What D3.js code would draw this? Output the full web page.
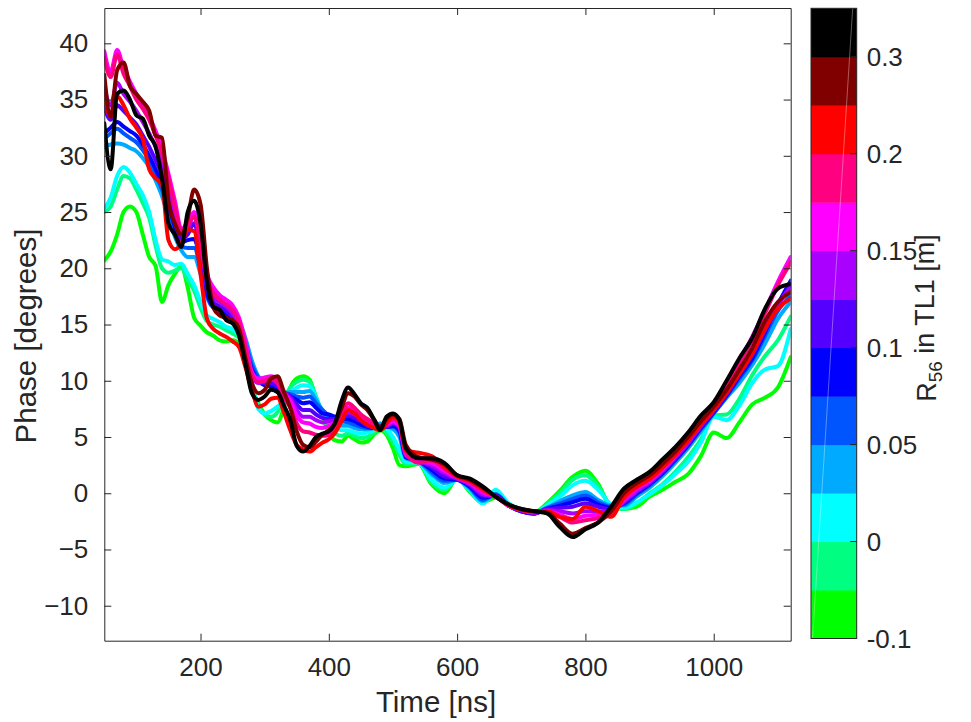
<!DOCTYPE html>
<html>
<head>
<meta charset="utf-8">
<script src="https://cdn.jsdelivr.net/npm/d3@7"></script>
<style>
  html, body { margin: 0; padding: 0; background: #fff; }
  svg { display: block; }
  text { font-family: "Liberation Sans", Arial, Helvetica, sans-serif; fill: #262626; }
</style>
</head>
<body>
<svg id="chart" width="971" height="722"></svg>
<script>
// ---------- data ----------
const times = [50,60,70,80,90,100,110,120,130,140,150,160,170,180,190,200,210,220,230,240,250,260,270,280,290,300,
  310,320,330,340,350,360,370,380,390,400,410,420,430,440,450,460,470,480,490,500,510,520,
  540,560,580,600,620,640,660,680,700,720,
  740,760,780,800,820,840,860,880,900,920,940,960,980,1000,1020,1040,1060,1080,1100,1120];

const seriesColors = ["#00ff00","#00ff80","#00ffff","#00aaff","#0055ff","#0000ff","#5500ff","#aa00ff","#ff00ff","#ff0080","#ff0000","#800000","#000000"];

const phaseGreen = [20.7,21.5,23.0,25.0,25.5,25.0,23.0,21.0,20.2,17.0,18.5,19.5,20.2,18.3,15.6,14.9,14.3,14.0,13.6,13.5,13.6,13.3,11.5,9.3,8.0,7.0,
  6.5,6.3,7.6,9.4,10.2,10.4,10.1,8.4,6.9,5.3,4.7,4.6,5.1,4.8,4.5,4.6,5.2,5.6,5.2,4.0,2.5,2.4,
  2.6,0.8,0.0,1.3,0.1,-0.8,-0.4,-1.0,-1.5,-1.7,
  -0.9,0.2,1.45,2.0,0.8,-1.2,-1.4,-1.2,-0.3,0.3,1.0,1.7,3.3,5.4,4.9,6.3,7.9,8.5,9.4,12.1];
const phaseSpring = [25.0,25.5,27.0,28.2,28.0,27.0,25.8,24.5,22.0,20.0,19.6,19.8,20.0,19.0,18.0,16.5,15.3,15.0,14.8,14.5,14.2,13.8,12.0,9.6,7.8,7.0,
  6.8,7.2,8.4,9.4,9.9,10.1,9.9,8.6,7.0,5.8,5.3,5.1,5.3,5.1,4.9,5.0,5.4,5.8,5.4,4.6,3.4,2.6,
  2.7,1.0,0.3,1.3,0.2,-0.9,0.0,-0.9,-1.5,-1.8,
  -1.0,0.0,1.2,1.6,0.6,-1.1,-1.4,-0.9,0.0,0.8,1.9,3.2,4.8,6.9,7.0,8.4,10.5,12.2,13.6,15.7];
const phaseCyan = [25.3,26.3,28.2,29.0,28.5,27.5,26.5,25.0,22.5,20.8,20.6,20.3,20.4,19.5,18.5,17.0,15.8,15.5,15.2,14.8,14.6,14.0,12.3,9.8,7.5,7.1,
  7.3,7.7,8.2,9.0,9.4,9.6,9.5,8.5,7.2,6.3,5.9,5.6,5.6,5.4,5.3,5.4,5.6,6.2,5.8,5.0,3.9,2.8,
  2.7,1.2,0.5,1.2,0.3,-0.9,0.3,-0.9,-1.5,-1.8,
  -1.1,-0.3,0.7,1.1,0.3,-1.0,-1.3,-0.8,-0.1,0.7,1.7,2.8,4.5,6.8,6.5,7.8,9.8,11.0,11.3,14.6];
const phaseSky = [30.8,31.0,31.1,31.0,30.7,30.4,29.8,29.0,27.8,26.4,24.6,22.8,21.6,21.0,21.0,19.5,17.5,16.8,16.6,16.4,16.0,15.3,13.8,11.8,10.4,9.8,
  9.4,9.0,8.9,9.0,9.0,9.0,9.1,8.3,7.4,6.7,6.3,6.0,6.0,5.8,5.7,5.7,5.8,6.2,6.0,5.7,5.0,3.1,
  2.8,1.7,0.9,1.2,0.4,-0.7,-0.1,-1.0,-1.6,-1.8,
  -1.3,-0.7,-0.2,0.1,-0.6,-1.1,-1.1,-0.3,0.5,1.5,2.7,4.0,5.5,7.1,8.5,9.8,11.4,13.3,15.5,17.0];
const phaseAzure = [31.5,32.0,32.4,32.0,31.6,31.2,30.5,29.6,28.4,27.0,25.2,23.3,22.0,21.8,21.8,20.0,17.5,16.5,16.3,16.1,15.7,15.0,13.4,11.4,10.3,9.7,
  9.5,9.1,8.9,8.8,8.6,8.5,8.6,8.0,7.4,6.9,6.6,6.4,6.3,6.1,5.9,5.8,5.8,6.0,5.9,5.9,5.4,3.2,
  2.9,1.9,1.1,1.2,0.5,-0.6,-0.1,-1.1,-1.6,-1.8,
  -1.3,-0.9,-0.5,-0.2,-0.8,-1.2,-1.0,-0.1,0.7,1.7,2.9,4.2,5.7,7.1,8.6,10.2,11.8,14.0,16.2,17.6];
const phaseBlue = [32.0,32.5,33.0,32.6,32.2,31.8,31.0,30.0,28.8,27.5,25.7,23.7,22.3,22.5,22.6,20.6,17.8,16.6,16.3,16.0,15.5,14.8,13.0,11.0,10.0,9.6,
  9.5,9.2,8.9,8.6,8.3,8.0,8.1,7.6,7.1,7.0,6.8,6.7,6.6,6.4,6.1,5.9,5.8,5.9,5.9,6.0,5.6,3.2,
  2.9,2.1,1.3,1.2,0.6,-0.4,-0.2,-1.1,-1.6,-1.8,
  -1.4,-1.1,-0.8,-0.5,-1.0,-1.3,-0.9,0.0,0.8,1.8,3.0,4.3,5.8,7.2,8.7,10.4,12.0,14.3,16.8,18.9];
const phaseIndigo = [34.3,33.2,34.5,34.0,33.4,32.8,31.8,30.8,29.6,28.3,26.5,24.3,22.6,23.0,24.0,21.5,18.3,17.0,16.6,16.2,15.7,14.8,12.8,10.7,9.9,9.8,
  9.8,9.5,9.0,8.6,7.9,7.4,7.4,7.0,6.7,6.6,6.6,6.8,6.9,6.7,6.4,6.0,5.9,5.8,5.9,6.2,5.8,3.3,
  2.9,2.3,1.5,1.3,0.7,-0.2,-0.2,-1.1,-1.6,-1.8,
  -1.4,-1.3,-1.2,-0.9,-1.2,-1.4,-0.8,0.1,0.9,1.9,3.1,4.4,5.9,7.3,8.8,10.6,12.3,14.5,16.7,18.5];
const phasePurple = [36.1,34.5,36.5,35.5,34.8,34.0,33.0,32.0,30.8,29.4,27.3,25.0,23.0,23.5,24.8,22.2,18.8,17.5,17.0,16.6,16.0,15.0,12.8,10.5,9.8,10.0,
  10.1,9.8,9.0,8.4,7.4,6.8,6.8,6.5,6.3,6.4,6.5,6.9,7.2,7.0,6.6,6.2,6.0,5.8,6.0,6.3,5.9,3.4,
  2.9,2.5,1.8,1.3,0.8,-0.1,-0.3,-1.1,-1.5,-1.7,
  -1.5,-1.6,-1.8,-1.6,-1.6,-1.6,-0.7,0.2,1.0,2.0,3.2,4.5,6.0,7.4,9.0,10.8,12.6,14.8,16.8,18.3];
const phaseMagenta = [39.3,37.5,39.4,37.8,36.6,35.5,34.5,33.5,32.2,30.6,28.4,26.0,23.5,24.0,25.0,22.5,19.5,18.3,17.6,17.2,16.7,15.6,13.5,10.8,10.2,10.3,
  10.4,10.0,9.0,8.2,6.9,6.3,6.2,5.9,5.8,6.0,6.3,7.0,7.6,7.3,6.8,6.4,6.1,5.8,6.1,6.4,6.0,3.5,
  2.8,2.7,2.0,1.4,0.9,0.1,-0.3,-1.1,-1.5,-1.7,
  -1.6,-1.9,-2.3,-2.0,-1.9,-1.8,-0.6,0.4,1.1,2.1,3.3,4.7,6.3,7.8,9.6,11.8,13.9,16.3,18.8,21.0];
const phasePink = [38.7,37.0,39.0,37.3,36.2,35.0,34.2,33.2,31.8,30.2,28.0,25.5,23.3,23.8,24.6,22.0,19.0,17.8,17.2,16.8,16.3,15.2,13.0,10.5,9.9,10.0,
  10.2,9.8,8.6,7.6,6.2,5.5,5.4,5.2,5.1,5.2,5.8,7.0,8.0,7.6,7.0,6.6,6.2,5.8,6.3,6.6,6.2,3.6,
  2.7,2.9,2.2,1.4,1.0,0.2,-0.3,-1.1,-1.5,-1.7,
  -1.6,-2.1,-2.6,-2.4,-2.2,-1.9,-0.5,0.5,1.2,2.2,3.4,4.7,6.2,7.7,9.4,11.6,13.6,16.0,18.5,20.5];
const phaseRed = [35.3,33.5,35.3,34.5,33.3,32.5,31.5,28.8,28.0,27.4,22.5,21.7,22.2,23.4,23.3,19.5,15.5,14.6,14.2,13.9,13.5,13.0,11.2,9.2,7.7,7.9,
  8.4,8.5,7.2,5.6,4.3,3.9,3.7,4.1,4.5,4.8,5.4,6.4,7.4,7.1,6.5,6.1,5.8,5.6,6.2,6.8,6.4,3.8,
  3.6,3.3,2.4,1.5,1.1,0.4,-0.3,-1.0,-1.5,-1.6,
  -1.6,-2.1,-2.3,-1.2,-1.6,-2.1,-0.3,0.6,1.3,2.3,3.4,4.7,6.1,7.4,8.9,10.6,12.4,14.6,16.4,17.3];
const phaseDarkRed = [37.2,33.5,37.6,38.3,36.2,35.5,34.8,34.0,31.8,31.6,26.0,24.0,23.0,24.5,27.0,25.7,20.0,16.5,15.8,15.6,15.4,14.6,12.0,9.8,8.9,9.2,
  10.2,10.4,9.0,7.6,5.5,4.3,4.1,4.6,5.2,5.6,6.2,7.6,8.9,8.6,7.9,7.4,6.6,5.9,6.6,7.0,6.6,4.3,
  3.2,3.0,2.6,1.6,1.2,0.5,-0.3,-1.0,-1.4,-1.6,
  -1.7,-2.7,-3.6,-3.1,-2.6,-1.6,0.0,0.9,1.6,2.6,3.7,5.0,6.4,7.7,9.2,11.0,12.9,15.3,17.0,17.9];
const phaseBlack = [32.9,28.8,35.5,35.8,35.0,33.6,33.3,31.8,30.8,28.0,24.0,23.0,21.9,25.0,26.0,24.0,18.8,16.6,16.3,15.4,15.1,14.0,11.5,8.9,8.3,8.6,
  9.2,9.0,7.8,6.5,4.2,3.7,4.2,5.0,5.3,5.5,6.3,8.2,9.4,8.8,8.0,7.6,6.6,5.6,6.8,7.1,6.5,4.0,
  3.1,3.1,2.7,1.6,1.3,0.6,-0.3,-1.0,-1.4,-1.6,
  -1.8,-3.0,-3.9,-3.2,-2.6,-1.2,0.4,1.2,1.9,3.0,4.1,5.4,6.9,8.1,10.0,12.0,13.8,16.4,18.2,18.6];

const allSeries = [phaseGreen, phaseSpring, phaseCyan, phaseSky, phaseAzure, phaseBlue, phaseIndigo,
                   phasePurple, phaseMagenta, phasePink, phaseRed, phaseDarkRed, phaseBlack];

const xTicks = [200, 400, 600, 800, 1000];
const yTicks = [-10, -5, 0, 5, 10, 15, 20, 25, 30, 35, 40];
const cbTickLabels = ["-0.1", "0", "0.05", "0.1", "0.15", "0.2", "0.3"];
const cbTickBands = [0, 2, 4, 6, 8, 10, 12];

// ---------- layout ----------
const svg = d3.select("#chart");
const L = 104.3, R = 790.7, T = 8, B = 640.7;
const x = d3.scaleLinear().domain([50, 1120]).range([L, R]);
const y = d3.scaleLinear().domain([-13.11, 43.14]).range([B, T]);
const axisColor = "#262626";
const tickFont = 26;
const labelFont = 29.5;

svg.append("rect").attr("width", 971).attr("height", 722).attr("fill", "#fff");

svg.append("clipPath").attr("id", "clip")
  .append("rect").attr("x", L).attr("y", T).attr("width", R - L).attr("height", B - T);

const line = d3.line()
  .x((d, i) => x(times[i]))
  .y(d => y(d))
  .curve(d3.curveMonotoneX);

const gLines = svg.append("g").attr("clip-path", "url(#clip)");
allSeries.forEach((s, k) => {
  gLines.append("path")
    .attr("d", line(s))
    .attr("fill", "none")
    .attr("stroke", seriesColors[k])
    .attr("stroke-width", 4)
    .attr("stroke-linejoin", "round")
    .attr("stroke-linecap", "round");
});

// axes (box with inward ticks)
const tl = 7;
const gB = svg.append("g").attr("transform", `translate(0,${B})`)
  .call(d3.axisBottom(x).tickValues(xTicks).tickSizeInner(-tl).tickSizeOuter(0).tickPadding(17).tickFormat(d3.format("d")));
const gT = svg.append("g").attr("transform", `translate(0,${T})`)
  .call(d3.axisTop(x).tickValues(xTicks).tickSizeInner(-tl).tickSizeOuter(0).tickFormat(""));
const gL = svg.append("g").attr("transform", `translate(${L},0)`)
  .call(d3.axisLeft(y).tickValues(yTicks).tickSizeInner(-tl).tickSizeOuter(0).tickPadding(16).tickFormat(d3.format("d")));
const gR = svg.append("g").attr("transform", `translate(${R},0)`)
  .call(d3.axisRight(y).tickValues(yTicks).tickSizeInner(-tl).tickSizeOuter(0).tickFormat(""));

[gB, gT, gL, gR].forEach(g => {
  g.select(".domain").attr("stroke", axisColor).attr("stroke-width", 1);
  g.selectAll(".tick line").attr("stroke", axisColor).attr("stroke-width", 1);
  g.selectAll(".tick text").attr("fill", axisColor).style("font-size", tickFont + "px")
    .style("font-family", '"Liberation Sans", Arial, sans-serif');
});
gB.selectAll(".tick text").attr("dy", "0.71em");

// axis labels
svg.append("text")
  .attr("x", 436).attr("y", 712)
  .attr("text-anchor", "middle")
  .style("font-size", labelFont + "px")
  .text("Time [ns]");
svg.append("text")
  .attr("transform", `translate(36,336) rotate(-90)`)
  .attr("text-anchor", "middle")
  .style("font-size", labelFont + "px")
  .text("Phase [degrees]");

// colorbar
const cbL = 811, cbR = 856.7, cbT = 8.3, cbB = 638.5;
const cbY = d3.scaleLinear().domain([0, seriesColors.length]).range([cbB, cbT]);
const gCb = svg.append("g");
seriesColors.forEach((c, i) => {
  gCb.append("rect")
    .attr("x", cbL).attr("y", cbY(i + 1))
    .attr("width", cbR - cbL).attr("height", cbY(i) - cbY(i + 1) + 0.5)
    .attr("fill", c);
});
gCb.append("line")
  .attr("x1", cbL + 1.5).attr("y1", cbB).attr("x2", cbR - 4).attr("y2", cbT)
  .attr("stroke", "#ffffff").attr("stroke-opacity", 0.35).attr("stroke-width", 1);
gCb.append("rect")
  .attr("x", cbL).attr("y", cbT).attr("width", cbR - cbL).attr("height", cbB - cbT)
  .attr("fill", "none").attr("stroke", axisColor).attr("stroke-width", 1);
cbTickBands.forEach((b, i) => {
  const yy = cbY(b);
  gCb.append("line").attr("x1", cbR - 6.5).attr("x2", cbR).attr("y1", yy).attr("y2", yy)
    .attr("stroke", axisColor).attr("stroke-width", 1);
  gCb.append("text")
    .attr("x", cbR + 10).attr("y", yy).attr("dy", "0.35em")
    .style("font-size", tickFont + "px")
    .text(cbTickLabels[i]);
});
const cbLabel = svg.append("text")
  .attr("transform", `translate(936,318) rotate(-90)`)
  .attr("text-anchor", "middle")
  .style("font-size", "27px");
cbLabel.append("tspan").text("R");
cbLabel.append("tspan").attr("dy", "0.3em").style("font-size", "19px").text("56");
cbLabel.append("tspan").attr("dy", "-0.3em").text(" in TL1 [m]");
</script>
</body>
</html>
